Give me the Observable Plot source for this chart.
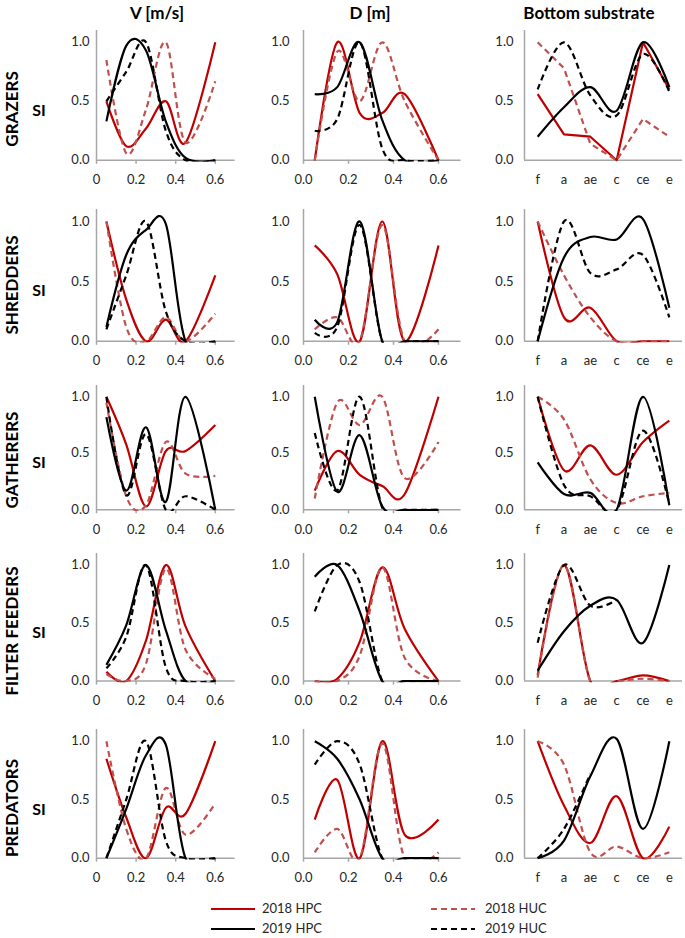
<!DOCTYPE html>
<html><head><meta charset="utf-8">
<script src="https://cdn.jsdelivr.net/npm/d3@7"></script>
<script src="https://cdn.jsdelivr.net/npm/@observablehq/plot@0.6"></script>
<style>
html,body{margin:0;padding:0;background:#fff;}
#root{position:relative;width:685px;height:938px;font-family:Lato,"Open Sans",sans-serif;color:#000;overflow:hidden;}
.lbl{position:absolute;transform:translate(-50%,-50%);white-space:nowrap;font-weight:700;}
.rot{position:absolute;transform:translate(-50%,-50%) rotate(-90deg);white-space:nowrap;font-weight:700;font-size:17px;}
.leg{position:absolute;font-size:13px;color:#262626;}
</style></head>
<body><div id="root"></div>
<script>
// ---------- data ----------
const groups = ["GRAZERS", "SHREDDERS", "GATHERERS", "FILTER FEEDERS", "PREDATORS"];
const columnTitles = ["V [m/s]", "D [m]", "Bottom substrate"];
const seriesNames = ["2018 HPC", "2018 HUC", "2019 HPC", "2019 HUC"];
const yAxisLabel = "SI";
const vX = [0.05, 0.15, 0.25, 0.35, 0.45, 0.6];
const dX = [0.05, 0.15, 0.25, 0.35, 0.45, 0.6];
const substrates = ["f", "a", "ae", "c", "ce", "e"];
const vTicks = [0, 0.2, 0.4, 0.6];
const dTicks = [0, 0.2, 0.4, 0.6];
const yTicks = [0, 0.5, 1];

// rows: GRAZERS, SHREDDERS, GATHERERS, FILTER FEEDERS, PREDATORS
const V_2018HPC = [
  [0.5, 0.12, 0.27, 0.5, 0.15, 1.0],
  [1.0, 0.35, 0.0, 0.18, 0.0, 0.55],
  [1.0, 0.58, 0.03, 0.52, 0.52, 0.75],
  [0.08, 0.0, 0.35, 1.0, 0.47, 0.0],
  [0.85, 0.35, 0.0, 0.43, 0.38, 1.0]
];
const V_2018HUC = [
  [0.85, 0.06, 0.43, 1.0, 0.15, 0.67],
  [1.0, 0.12, 0.0, 0.2, 0.0, 0.23],
  [0.95, 0.12, 0.04, 0.6, 0.32, 0.3],
  [0.06, 0.0, 0.15, 0.97, 0.27, 0.02],
  [1.0, 0.25, 0.0, 0.6, 0.2, 0.47]
];
const V_2019HPC = [
  [0.33, 0.97, 0.93, 0.33, 0.02, 0.0],
  [0.12, 0.72, 0.93, 0.98, 0.0, 0.0],
  [0.82, 0.17, 0.73, 0.07, 1.0, 0.0],
  [0.14, 0.48, 1.0, 0.44, 0.0, 0.0],
  [0.0, 0.42, 0.88, 0.97, 0.0, 0.0]
];
const V_2019HUC = [
  [0.5, 0.75, 1.0, 0.25, 0.0, 0.0],
  [0.1, 0.55, 1.0, 0.25, 0.0, 0.0],
  [1.0, 0.13, 0.67, 0.0, 0.12, 0.0],
  [0.11, 0.38, 1.0, 0.12, 0.0, 0.0],
  [0.0, 0.5, 1.0, 0.15, 0.0, 0.0]
];
const D_2018HPC = [
  [0.0, 1.0, 0.4, 0.4, 0.56, 0.0],
  [0.8, 0.56, 0.0, 1.0, 0.0, 0.8],
  [0.17, 0.52, 0.31, 0.21, 0.14, 1.0],
  [0.0, 0.02, 0.34, 0.98, 0.45, 0.0],
  [0.33, 0.67, 0.0, 1.0, 0.2, 0.33]
];
const D_2018HUC = [
  [0.0, 0.92, 0.5, 1.0, 0.5, 0.0],
  [0.1, 0.2, 0.0, 0.97, 0.0, 0.1],
  [0.1, 0.95, 0.75, 1.0, 0.28, 0.6],
  [0.0, 0.0, 0.22, 0.98, 0.2, 0.0],
  [0.05, 0.25, 0.0, 0.98, 0.0, 0.05]
];
const D_2019HPC = [
  [0.56, 0.62, 1.0, 0.34, 0.0, 0.0],
  [0.18, 0.16, 1.0, 0.0, 0.0, 0.0],
  [1.0, 0.16, 0.66, 0.03, 0.0, 0.0],
  [0.9, 1.0, 0.6, 0.0, 0.0, 0.0],
  [1.0, 0.85, 0.5, 0.0, 0.0, 0.0]
];
const D_2019HUC = [
  [0.25, 0.35, 1.0, 0.1, 0.0, 0.0],
  [0.07, 0.12, 0.97, 0.0, 0.0, 0.0],
  [0.68, 0.17, 1.0, 0.02, 0.0, 0.0],
  [0.6, 1.0, 0.85, 0.0, 0.0, 0.0],
  [0.8, 1.0, 0.8, 0.0, 0.0, 0.0]
];
const S_2018HPC = [
  [0.56, 0.22, 0.2, 0.0, 1.0, 0.6],
  [1.0, 0.2, 0.28, 0.0, 0.0, 0.0],
  [1.0, 0.35, 0.57, 0.31, 0.6, 0.79],
  [0.05, 1.0, 0.0, 0.0, 0.05, 0.0],
  [1.0, 0.45, 0.13, 0.53, 0.0, 0.27]
];
const S_2018HUC = [
  [1.0, 0.78, 0.14, 0.0, 0.35, 0.2],
  [1.0, 0.55, 0.2, 0.0, 0.0, 0.0],
  [1.0, 0.8, 0.27, 0.06, 0.12, 0.15],
  [0.03, 1.0, 0.0, 0.0, 0.02, 0.0],
  [1.0, 0.8, 0.05, 0.1, 0.0, 0.05]
];
const S_2019HPC = [
  [0.2, 0.45, 0.62, 0.42, 1.0, 0.62],
  [0.0, 0.7, 0.87, 0.85, 1.02, 0.28],
  [0.42, 0.14, 0.15, 0.0, 1.0, 0.04],
  [0.09, 0.43, 0.65, 0.7, 0.33, 1.0],
  [0.0, 0.15, 0.7, 1.02, 0.25, 1.0]
];
const S_2019HUC = [
  [0.6, 1.0, 0.55, 0.38, 0.9, 0.58],
  [0.0, 1.0, 0.57, 0.6, 0.72, 0.2],
  [1.0, 0.22, 0.12, 0.0, 0.7, 0.05],
  [0.33, 1.0, 0.65, 0.7, null, null],
  [0.0, 0.25, 0.72, null, null, null]
];
// series drawn with straight segments (not smoothed) in the substrate column
const straightSubstrate = [["GRAZERS", "2018 HPC"], ["GRAZERS", "2018 HUC"]];

// ---------- styles & layout ----------
const seriesStyles = [
  {stroke: "#c00000", dash: null},
  {stroke: "#c0504d", dash: "6,4"},
  {stroke: "#000000", dash: null},
  {stroke: "#000000", dash: "6,4"}
];
const axisGray = "#a6a6a6";
const rowZero = [159.5, 341.1, 509.3, 680.9, 858];
const rowOne  = [41.5, 221.3, 396.3, 564.9, 741];
const colAxisX = [96, 303, 524];
const colAxisEnd = [234.6, 460.5, 682];
const yTickPad = [7, 14, 11];

const root = document.getElementById("root");
const columns = [
  {xs: vX, arrays: [V_2018HPC, V_2018HUC, V_2019HPC, V_2019HUC], ticks: vTicks, fmt: d => d === 0 ? "0" : d.toFixed(1)},
  {xs: dX, arrays: [D_2018HPC, D_2018HUC, D_2019HPC, D_2019HUC], ticks: dTicks, fmt: d => d.toFixed(1)},
  {xs: substrates.map((_, i) => i), arrays: [S_2018HPC, S_2018HUC, S_2019HPC, S_2019HUC], ticks: substrates.map((_, i) => i), fmt: i => substrates[i]}
];

function panel(r, c) {
  const col = columns[c];
  const yZero = rowZero[r], unit = rowZero[r] - rowOne[r];
  const yMin = -0.015, yMax = 1.1;
  const frameTop = yZero - yMax * unit, frameBottom = yZero - yMin * unit;
  const mL = 46, mR = 4, mT = 4, mB = 34;
  const width = mL + (colAxisEnd[c] - colAxisX[c]) + mR;
  const height = mT + (frameBottom - frameTop) + mB;
  const xDomain = c < 2 ? [0, 0.7] : [-0.5, 5.5];
  const marks = [
    Plot.ruleY([0], {stroke: axisGray, strokeWidth: 1.5}),
    Plot.ruleX([xDomain[0]], {y1: 0, y2: yMax, stroke: axisGray, strokeWidth: 1.5})
  ];
  if (c < 2) marks.push(Plot.ruleX(col.ticks, {y1: 0, y2: -4 / unit, stroke: axisGray, strokeWidth: 1.5}));
  seriesNames.forEach((name, k) => {
    const vals = col.arrays[k][r];
    const data = col.xs.map((x, i) => ({x, y: vals[i]}));
    const straight = c === 2 && straightSubstrate.some(([g, s]) => g === groups[r] && s === name);
    marks.push(Plot.line(data, {
      x: "x", y: "y", stroke: seriesStyles[k].stroke, strokeWidth: 2.2,
      strokeDasharray: seriesStyles[k].dash, strokeLinecap: "butt",
      curve: straight ? "linear" : "cardinal", clip: true
    }));
  });
  const chart = Plot.plot({
    width, height, marginLeft: mL, marginRight: mR, marginTop: mT, marginBottom: mB,
    x: {domain: xDomain, ticks: col.ticks, tickFormat: col.fmt, tickSize: 0, tickPadding: 13, label: null},
    y: {domain: [yMin, yMax], ticks: yTicks, tickFormat: d => d.toFixed(1), tickSize: 0, tickPadding: yTickPad[c], label: null},
    style: {fontFamily: "Lato, sans-serif", fontSize: "13px", color: "#262626", background: "transparent", overflow: "visible"},
    marks
  });
  chart.style.position = "absolute";
  chart.style.left = (colAxisX[c] - mL) + "px";
  chart.style.top = (frameTop - mT) + "px";
  root.appendChild(chart);
}

for (let r = 0; r < groups.length; r++) for (let c = 0; c < 3; c++) panel(r, c);

// column titles
const titleX = [157, 370, 589];
columnTitles.forEach((t, c) => {
  const d = document.createElement("div");
  d.className = "lbl"; d.textContent = t;
  d.style.left = titleX[c] + "px"; d.style.top = "12px"; d.style.fontSize = "17px";
  root.appendChild(d);
});
// row labels and SI
const rowLabelY = [109, 285, 460, 631, 808];
groups.forEach((g, r) => {
  const d = document.createElement("div");
  d.className = "rot"; d.textContent = g;
  d.style.left = "11px"; d.style.top = rowLabelY[r] + "px";
  root.appendChild(d);
  const s = document.createElement("div");
  s.className = "lbl"; s.textContent = yAxisLabel; s.style.fontSize = "16px";
  s.style.left = "39px"; s.style.top = ((rowZero[r] + rowOne[r]) / 2 + 8) + "px";
  root.appendChild(s);
});
// legend
const legPos = [[211, 909], [431, 909], [211, 929], [431, 929]];
seriesNames.forEach((name, k) => {
  const [x, y] = legPos[k];
  const svg = d3.select(root).append("svg").attr("width", 46).attr("height", 6)
    .style("position", "absolute").style("left", x + "px").style("top", (y - 3) + "px");
  svg.append("line").attr("x1", 0).attr("x2", 44).attr("y1", 3).attr("y2", 3)
    .attr("stroke", seriesStyles[k].stroke).attr("stroke-width", 2.2)
    .attr("stroke-dasharray", seriesStyles[k].dash);
  const t = document.createElement("div");
  t.className = "leg"; t.textContent = name;
  t.style.left = (x + (k % 2 === 0 ? 51 : 54)) + "px"; t.style.top = (y - 9) + "px";
  root.appendChild(t);
});
</script>
</body></html>
